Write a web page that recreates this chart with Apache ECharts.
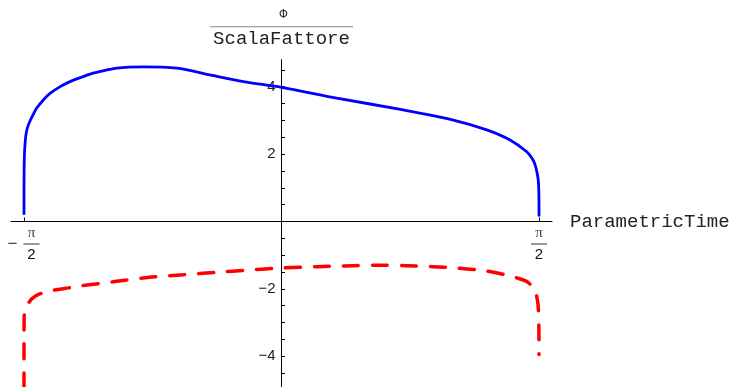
<!DOCTYPE html>
<html>
<head>
<meta charset="utf-8">
<script src="https://cdn.jsdelivr.net/npm/echarts@6/dist/echarts.min.js"></script>
<style>html,body{margin:0;padding:0;background:#fff}#c{width:730px;height:387px}</style>
</head>
<body>
<div id="c"></div>
<script>
// ---- data ----
const blueX = [-1.5708,-1.5706,-1.5700,-1.5690,-1.5670,-1.5630,-1.5590,-1.5500,-1.5340,-1.5150,-1.4940,-1.4500,-1.4120,-1.3500,-1.2900,-1.2200,-1.1480,-1.0050,-0.8430,-0.6390,-0.4360,-0.2330,0.0000,0.3370,0.7430,1.0480,1.2520,1.3940,1.4960,1.5300,1.5470,1.5600,1.5670,1.5700,1.5708];
const blueY = [0.20,1.00,1.50,1.80,2.10,2.38,2.57,2.78,2.98,3.17,3.36,3.62,3.80,4.00,4.15,4.28,4.40,4.55,4.59,4.55,4.35,4.15,3.98,3.66,3.31,3.01,2.72,2.42,2.07,1.86,1.68,1.42,1.18,0.80,0.15];
const redX = [-1.5708,-1.5706,-1.5700,-1.5680,-1.5600,-1.5450,-1.5200,-1.4750,-1.4000,-1.3000,-1.2370,-1.0300,-0.8170,-0.6000,-0.3970,-0.2000,0.0000,0.2200,0.4420,0.6000,0.7570,0.9200,1.0720,1.2500,1.3660,1.4400,1.4920,1.5250,1.5440,1.5600,1.5670,1.5700,1.5708];
const redY = [-5.80,-3.50,-2.95,-2.72,-2.55,-2.43,-2.28,-2.15,-2.05,-1.97,-1.92,-1.79,-1.66,-1.58,-1.51,-1.44,-1.38,-1.34,-1.31,-1.30,-1.31,-1.34,-1.38,-1.47,-1.58,-1.68,-1.77,-1.90,-2.02,-2.30,-2.60,-3.20,-3.95];
const xTickValues = [-Math.PI/2, Math.PI/2];
const yTickValues = [-4.5,-4,-3.5,-3,-2.5,-2,-1.5,-1,-0.5,0.5,1,1.5,2,2.5,3,3.5,4,4.5];
const yLabelValues = [-4,-2,2,4];
const xAxisName = 'ParametricTime';
const yAxisNumerator = 'Φ';
const yAxisDenominator = 'ScalaFattore';

const zip = (xs, ys) => xs.map((x, i) => [x, ys[i]]);

const X_MIN = -1.65, X_MAX = 1.65, Y_MIN = -5, Y_MAX = 4.8;
const GRID = {left: 11, right: 178, top: 59.7, bottom: -3};
const W = 730, H = 387;
const gw = W - GRID.left - GRID.right, gh = H - GRID.top - GRID.bottom;
// distance from grid edges to the zero lines (axes cross at the origin)
const yAxisOffset = -((0 - X_MIN) / (X_MAX - X_MIN) * gw);
const xAxisOffset = -((0 - Y_MIN) / (Y_MAX - Y_MIN) * gh);

const chart = echarts.init(document.getElementById('c'), null, {renderer: 'canvas'});
chart.setOption({
  animation: false,
  backgroundColor: '#fff',
  grid: Object.assign({containLabel: false, outerBoundsMode: 'none'}, GRID),
  xAxis: {
    type: 'value', min: X_MIN, max: X_MAX, position: 'bottom', offset: xAxisOffset,
    axisLine: {onZero: false, lineStyle: {color: '#000', width: 1}},
    axisTick: {customValues: xTickValues, inside: true, length: 4, lineStyle: {color: '#000'}},
    splitLine: {show: false},
    axisLabel: {
      customValues: xTickValues,
      margin: 3.5,
      formatter: v => v < 0 ? '{sp|}{n|π}\n{m|−}{bar|}\n{sp|}{d|2}' : '{n|π}\n{bar|}\n{d|2}',
      rich: {
        sp: {width: 15, lineHeight: 16},
        n: {width: 18, align: 'center', fontFamily: 'Liberation Serif', fontSize: 15, lineHeight: 16, color: '#444'},
        d: {width: 18, align: 'center', fontFamily: 'Liberation Sans', fontSize: 15, lineHeight: 16, color: '#111'},
        m: {width: 15, align: 'left', fontFamily: 'Liberation Sans', fontSize: 17, lineHeight: 6, color: '#444'},
        bar: {width: 16, height: 1, lineHeight: 6, backgroundColor: '#333'}
      }
    },
    name: xAxisName, nameLocation: 'end', nameGap: 18,
    nameTextStyle: {fontFamily: 'Liberation Mono', fontSize: 19, color: '#222', verticalAlign: 'middle'}
  },
  yAxis: {
    type: 'value', min: Y_MIN, max: Y_MAX, position: 'left', offset: yAxisOffset,
    axisLine: {onZero: false, lineStyle: {color: '#000', width: 1}},
    axisTick: {customValues: yTickValues, inside: true, length: 3.5, lineStyle: {color: '#000'}},
    splitLine: {show: false},
    axisLabel: {
      customValues: yLabelValues,
      margin: 6,
      fontFamily: 'Liberation Sans', fontSize: 15, color: '#222',
      formatter: v => v < 0 ? '−' + (-v) : String(v)
    },
    name: '{phi|' + yAxisNumerator + '}\n{bar|}\n{s|' + yAxisDenominator + '}',
    nameLocation: 'end', nameGap: 13,
    nameTextStyle: {
      rich: {
        phi: {fontFamily: 'Liberation Mono', fontSize: 13, lineHeight: 16, color: '#333', padding: [0, 0, 0, 4]},
        bar: {width: 143, height: 1, lineHeight: 8, backgroundColor: '#888'},
        s: {fontFamily: 'Liberation Mono', fontSize: 19, lineHeight: 16, color: '#222'}
      }
    }
  },
  series: [
    {type: 'line', data: zip(blueX, blueY), showSymbol: false, smooth: 0.3, clip: true,
     lineStyle: {color: '#0000ff', width: 2.8}},
    {type: 'line', data: zip(redX, redY), showSymbol: false, smooth: 0.3, clip: true,
     lineStyle: {color: '#ff0000', width: 3.5, type: [15, 14], cap: 'round'}}
  ]
});
</script>
</body>
</html>
